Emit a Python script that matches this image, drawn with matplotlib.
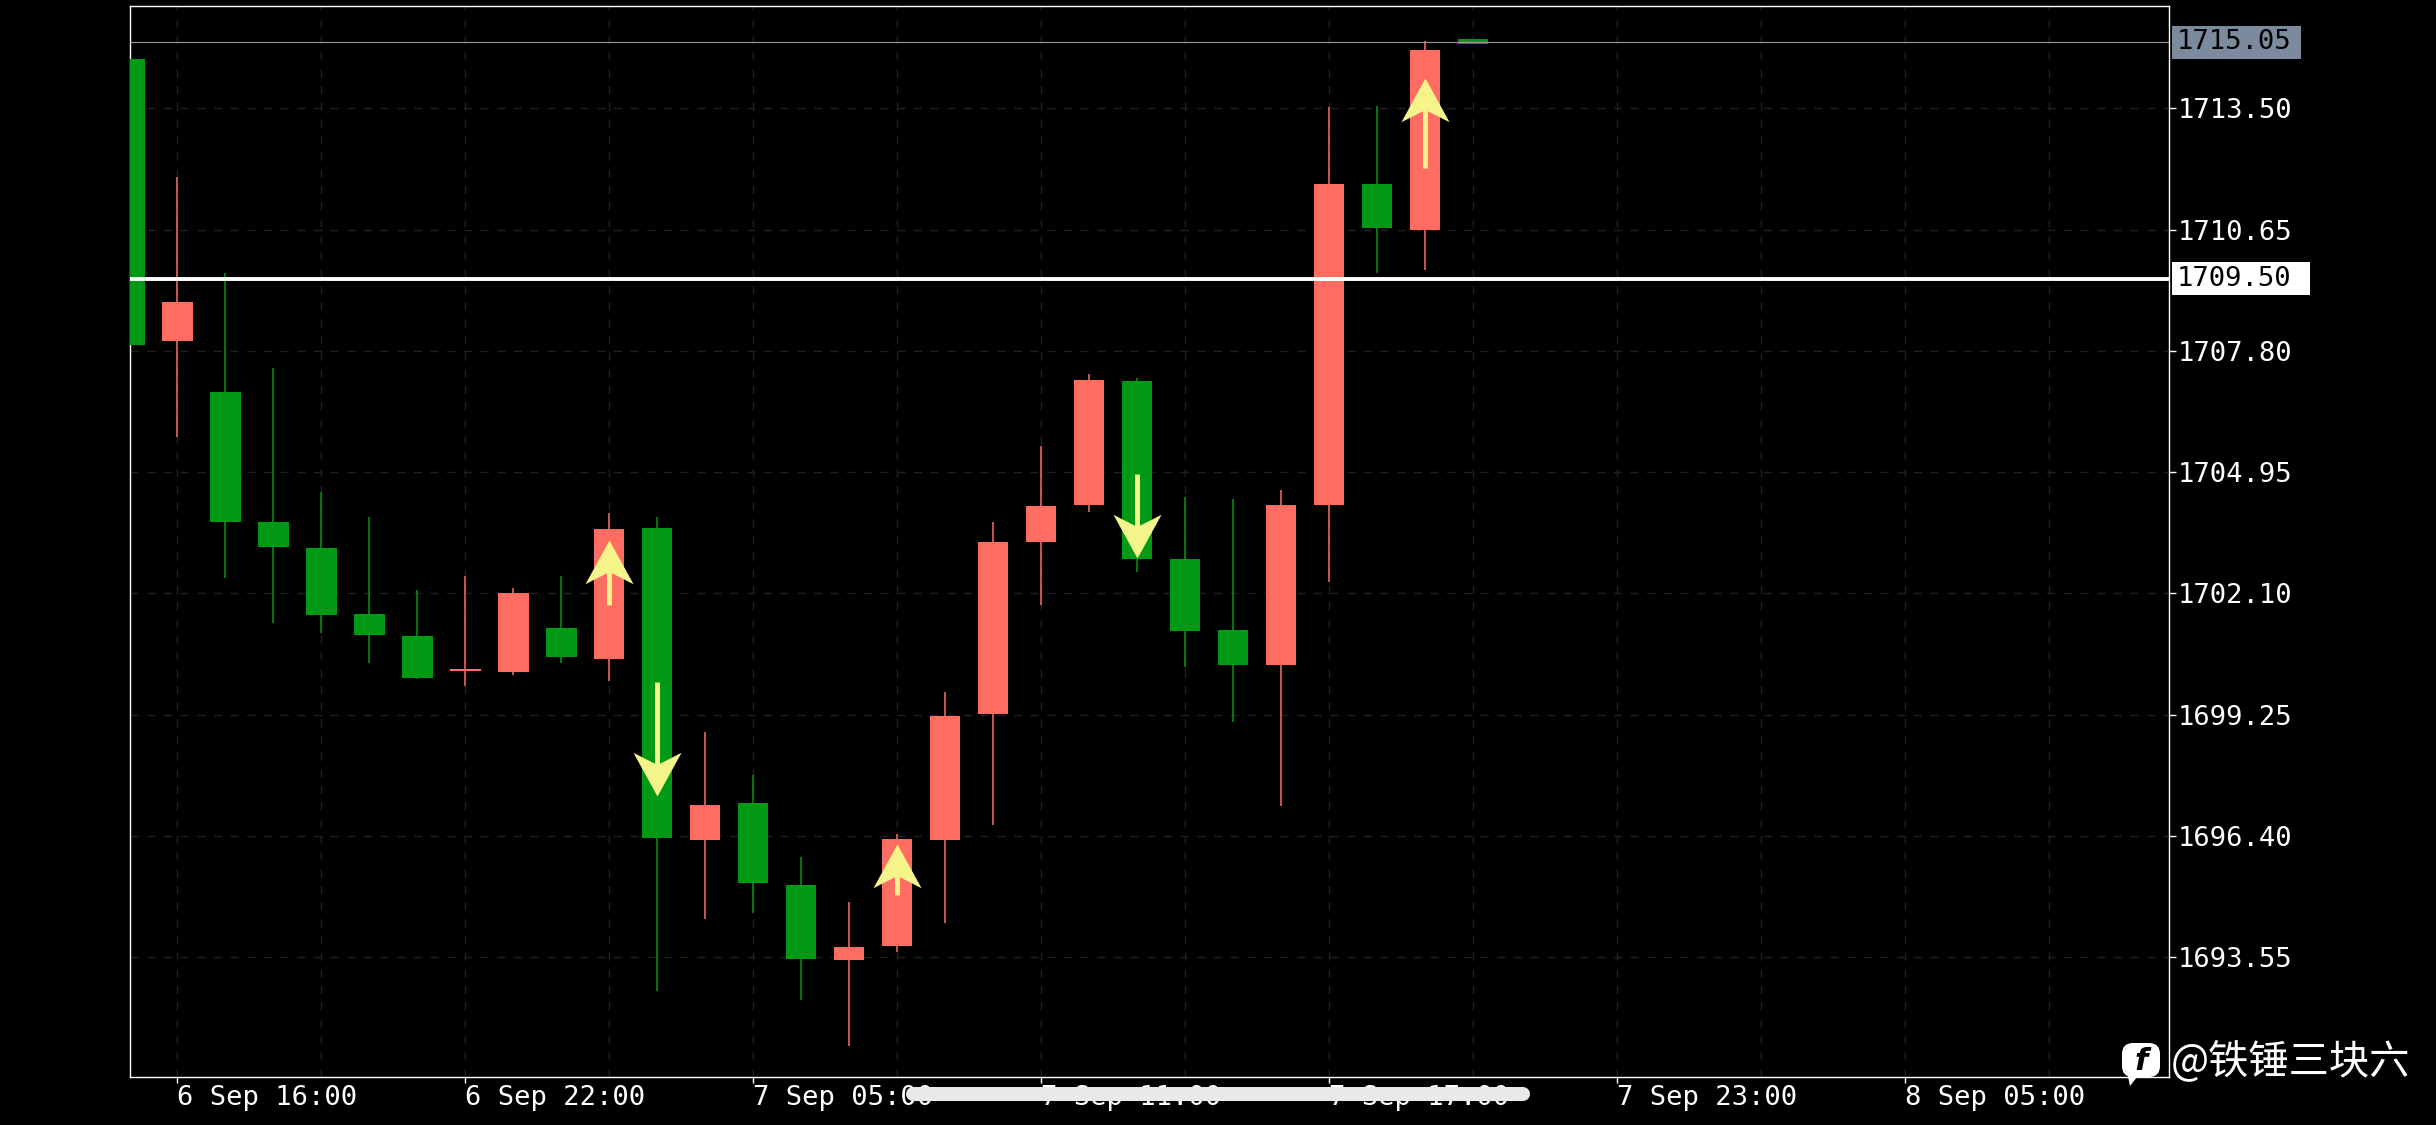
import numpy as np
import matplotlib
matplotlib.use('Agg')
import matplotlib.pyplot as plt
from matplotlib.path import Path
from matplotlib.patches import Rectangle, FancyBboxPatch, Polygon
from matplotlib.lines import Line2D
from matplotlib.transforms import IdentityTransform, blended_transform_factory

# ---------------- data ----------------
opens  = [1714.65, 1708.04, 1706.84, 1703.78, 1703.17, 1701.61, 1701.09, 1700.27,
          1700.25, 1701.28, 1700.55, 1703.64, 1696.32, 1697.18, 1695.25, 1693.50,
          1693.81, 1696.32, 1699.26, 1703.32, 1704.17, 1707.09, 1702.90, 1701.25,
          1700.41, 1704.17, 1711.72, 1710.65, 1715.12]
highs  = [1714.65, 1711.89, 1709.64, 1707.39, 1704.49, 1703.89, 1702.18, 1702.52,
          1702.23, 1702.52, 1703.99, 1703.89, 1698.84, 1697.83, 1695.92, 1694.84,
          1696.45, 1699.78, 1703.78, 1705.57, 1707.25, 1707.16, 1704.37, 1704.31,
          1704.53, 1713.54, 1713.56, 1715.08, 1715.12]
lows   = [1707.93, 1705.78, 1702.47, 1701.41, 1701.18, 1700.46, 1700.10, 1699.93,
          1700.18, 1700.46, 1700.04, 1692.75, 1694.46, 1694.59, 1692.56, 1691.47,
          1693.67, 1694.35, 1696.67, 1701.84, 1704.02, 1702.61, 1700.38, 1699.07,
          1697.11, 1702.38, 1709.63, 1709.69, 1715.02]
closes = [1707.93, 1708.95, 1703.79, 1703.19, 1701.60, 1701.13, 1700.12, 1700.27,
          1702.11, 1700.60, 1703.61, 1696.36, 1697.13, 1695.29, 1693.52, 1693.79,
          1696.34, 1699.22, 1703.31, 1704.16, 1707.12, 1702.92, 1701.23, 1700.41,
          1704.17, 1711.72, 1710.68, 1714.87, 1715.02]

tick_idx    = [1, 7, 13, 19, 25, 31, 37]
tick_labels = ['6 Sep 16:00', '6 Sep 22:00', '7 Sep 05:00', '7 Sep 11:00',
               '7 Sep 17:00', '7 Sep 23:00', '8 Sep 05:00']
minor_idx   = [4, 10, 16, 22, 28, 34, 40]
y_ticks     = [1693.55, 1696.40, 1699.25, 1702.10, 1704.95, 1707.80, 1710.65, 1713.50]
last_price  = 1715.05
level_price = 1709.50

arrow_idx  = [10, 11, 16, 21, 27]
arrow_from = [1701.84, 1700.03, 1695.01, 1704.90, 1712.09]
arrow_to   = [1703.36, 1697.35, 1696.22, 1702.93, 1714.20]

watermark = '@铁锤三块六'

# ---------------- style ----------------
RED = '#ff6d62'
GREEN = '#009a16'
YELLOW = '#f4f48a'
GRID = '#202020'

plt.rcParams['font.family'] = ['DejaVu Sans Mono']

W, H, DPI = 2436, 1125, 100
fig = plt.figure(figsize=(W / DPI, H / DPI), dpi=DPI, facecolor='black')
L, R, T, B = 129.5, 2169, 5.7, 1077
ax = fig.add_axes([L / W, 1 - B / H, (R - L) / W, (B - T) / H])
ax.set_facecolor('black')

o = np.array(opens); h = np.array(highs); lo = np.array(lows); c = np.array(closes)
x = np.arange(len(o))
colors = np.where(c >= o, RED, GREEN)

ax.set_xlim(0, 42.5)
ax.set_ylim(1690.74, 1715.91)

# grid
ax.set_xticks(tick_idx)
ax.set_xticks(minor_idx, minor=True)
ax.set_yticks(y_ticks)
ax.set_xticklabels(tick_labels)
ax.set_yticklabels([f'{v:.2f}' for v in y_ticks])
ax.grid(True, which='both', axis='x', color=GRID, lw=1.0, ls=(0, (6, 6)), zorder=0)
ax.grid(True, which='major', axis='y', color=GRID, lw=1.0, ls=(0, (6, 6)), zorder=0)
ax.set_axisbelow(True)

# candles
ax.vlines(x, lo, h, colors=colors, lw=1.1, zorder=3)
bottoms = np.minimum(o, c)
heights = np.maximum(np.abs(c - o), 0.045)
ax.bar(x, heights, width=0.63, bottom=bottoms, color=colors, linewidth=0, zorder=4)

# horizontal levels
ax.axhline(last_price, color='#9a9a9a', lw=0.8, zorder=5)
ax.axhline(level_price, color='white', lw=2.8, zorder=6)

# arrows
codes = [Path.MOVETO, Path.LINETO, Path.LINETO, Path.LINETO, Path.CLOSEPOLY]
vu = [(0, 0), (0.55, -1), (0, -0.72), (-0.55, -1), (0, 0)]
head_up = Path(vu, codes)
head_dn = Path([(a, -b) for a, b in vu], codes)
MS = 63
ppu = abs(ax.transData.transform((0, 1)) - ax.transData.transform((0, 0)))[1]
head_len = (0.5 * MS * DPI / 72) / ppu
for i, f, t in zip(arrow_idx, arrow_from, arrow_to):
    d = 1 if t > f else -1
    ax.plot([i, i], [f, t - d * 0.68 * head_len], color=YELLOW, lw=3.6,
            solid_capstyle='butt', zorder=7)
    ax.plot([i], [t], marker=head_up if d > 0 else head_dn, ms=MS, color=YELLOW,
            mew=0, ls='none', zorder=8)

# axes styling
for s in ax.spines.values():
    s.set_color('white'); s.set_linewidth(1.0)
ax.yaxis.tick_right()
ax.tick_params(axis='y', colors='white', length=5.3, width=1.0, pad=1, labelsize=19.5)
ax.tick_params(axis='x', which='major', colors='white', length=4, width=1.0, pad=1.5,
               labelsize=19.5)
ax.tick_params(axis='x', which='minor', length=0)
for lab in ax.get_xticklabels():
    lab.set_ha('left')

# price labels on right
bt = blended_transform_factory(ax.transAxes, ax.transData)
axw = R - L
for price, fc, wpx in [(last_price, '#7b8a9c', 129), (level_price, 'white', 138)]:
    hh = 33 / ppu
    ax.add_patch(Rectangle((1 + 3 / axw, price - hh / 2), wpx / axw, hh,
                           transform=bt, facecolor=fc, edgecolor='none',
                           clip_on=False, zorder=10))
    ax.text(1 + 8 / axw, price, f'{price:.2f}', transform=bt, ha='left', va='center',
            fontsize=19.5, color='black', zorder=11, clip_on=False)

# watermark
fig.text(2171 / W, 1 - 1061 / H, watermark, color='white', fontsize=29,
         family=['Noto Sans CJK SC', 'DejaVu Sans'], ha='left', va='center', zorder=20)
idt = IdentityTransform()
fig.add_artist(FancyBboxPatch((2122, H - 1077), 38, 34,
                              boxstyle='round,pad=0,rounding_size=11',
                              transform=idt, facecolor='white', edgecolor='none',
                              zorder=20))
fig.add_artist(Polygon([(2127, H - 1072), (2141, H - 1072), (2130, H - 1086)],
                       closed=True, transform=idt, facecolor='white',
                       edgecolor='none', zorder=20))
fig.text(2141 / W, 1 - 1061 / H, 'f', color='black', fontsize=22,
         family='DejaVu Sans', weight='bold', style='italic',
         ha='center', va='center', zorder=21)

# home indicator bar
fig.add_artist(Line2D([913, 1523], [H - 1094, H - 1094], transform=idt,
                      color='#e9e9e9', lw=10.1, solid_capstyle='round', zorder=30))

fig.savefig('out.png', dpi=DPI, facecolor='black')
